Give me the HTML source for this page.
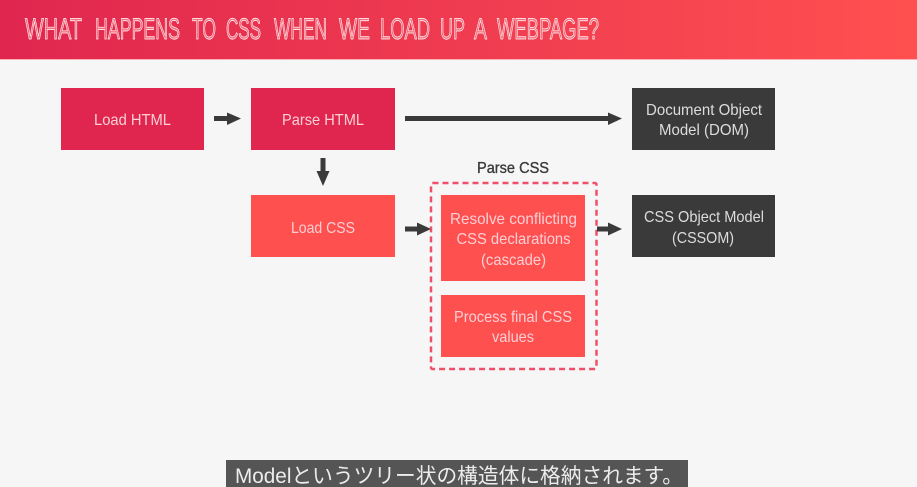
<!DOCTYPE html>
<html><head><meta charset="utf-8"><style>
html,body{margin:0;padding:0;width:917px;height:487px;overflow:hidden;background:#f6f6f6}
svg{display:block}
.t{font-family:"Liberation Sans",sans-serif;font-size:16px;fill:#fbcfd4;text-anchor:middle}
.d{font-family:"Liberation Sans",sans-serif;font-size:16px;fill:#dcdcdc;text-anchor:middle}
.h text{font-family:"Liberation Sans Narrow","Liberation Sans",sans-serif;font-size:30px;fill:#f4707f;stroke:#fff;stroke-width:.7px}
</style></head><body>
<svg width="917" height="487" viewBox="0 0 917 487" xmlns="http://www.w3.org/2000/svg">
<defs><linearGradient id="g" x1="0" y1="0" x2="1" y2="0"><stop offset="0" stop-color="#e0264f"/><stop offset="1" stop-color="#ff5050"/></linearGradient></defs>
<rect width="917" height="487" fill="#f6f6f6"/>
<rect width="917" height="59" fill="url(#g)"/>
<rect y="59" width="917" height="1" fill="#fbb0b8"/>
<g class="h">
<text x="25" y="39" textLength="57" lengthAdjust="spacingAndGlyphs">WHAT</text>
<text x="95" y="39" textLength="85" lengthAdjust="spacingAndGlyphs">HAPPENS</text>
<text x="192" y="39" textLength="24" lengthAdjust="spacingAndGlyphs">TO</text>
<text x="226" y="39" textLength="35" lengthAdjust="spacingAndGlyphs">CSS</text>
<text x="274" y="39" textLength="53" lengthAdjust="spacingAndGlyphs">WHEN</text>
<text x="339" y="39" textLength="31" lengthAdjust="spacingAndGlyphs">WE</text>
<text x="380" y="39" textLength="50" lengthAdjust="spacingAndGlyphs">LOAD</text>
<text x="440" y="39" textLength="25" lengthAdjust="spacingAndGlyphs">UP</text>
<text x="474" y="39" textLength="13" lengthAdjust="spacingAndGlyphs">A</text>
<text x="497" y="39" textLength="102" lengthAdjust="spacingAndGlyphs">WEBPAGE?</text>
</g>

<rect x="61" y="88" width="143" height="62" fill="#e0264f"/>
<rect x="251" y="88" width="144" height="62" fill="#e0264f"/>
<rect x="632" y="88" width="143" height="62" fill="#3a3a3a"/>
<rect x="251" y="195" width="144" height="62" fill="#ff5050"/>
<rect x="632" y="195" width="143" height="62" fill="#3a3a3a"/>
<rect x="441" y="195" width="144" height="86" fill="#ff5050"/>
<rect x="441" y="295" width="144" height="62" fill="#ff5050"/>
<rect x="431" y="183" width="165.500" height="186" rx="1.500" fill="none" stroke="#f0506a" stroke-width="2.500" stroke-dasharray="6 4"/>

<g fill="#3a3a3a">
<path d="M214 116H227V112.500L241 118.500L227 125V121H214Z"/>
<path d="M405 116H608V112.500L622 118.500L608 125V121H405Z"/>
<path d="M320.500 158H325.500V171H329.500L323 186L316.500 171H320.500Z"/>
<path d="M405 226.500H417V222.500L431 229L417 235.500V231.500H405Z"/>
<path d="M597 226.500H608V222.500L622 229L608 235.500V231.500H597Z"/>
</g>

<text class="t" x="132.500" y="125" textLength="77" lengthAdjust="spacingAndGlyphs">Load HTML</text>
<text class="t" x="323" y="125" textLength="82" lengthAdjust="spacingAndGlyphs">Parse HTML</text>
<text class="t" x="323" y="233" textLength="64" lengthAdjust="spacingAndGlyphs">Load CSS</text>
<text class="d" x="704" y="115" textLength="116" lengthAdjust="spacingAndGlyphs">Document Object</text>
<text class="d" x="704" y="135" textLength="90" lengthAdjust="spacingAndGlyphs">Model (DOM)</text>
<text class="d" x="704" y="222" textLength="120" lengthAdjust="spacingAndGlyphs">CSS Object Model</text>
<text class="d" x="703" y="243" textLength="62" lengthAdjust="spacingAndGlyphs">(CSSOM)</text>
<text class="t" x="513.500" y="224" textLength="127" lengthAdjust="spacingAndGlyphs">Resolve conflicting</text>
<text class="t" x="513.500" y="244" textLength="114" lengthAdjust="spacingAndGlyphs">CSS declarations</text>
<text class="t" x="513.500" y="265" textLength="65" lengthAdjust="spacingAndGlyphs">(cascade)</text>
<text class="t" x="513" y="322" textLength="118" lengthAdjust="spacingAndGlyphs">Process final CSS</text>
<text class="t" x="513" y="342" textLength="42" lengthAdjust="spacingAndGlyphs">values</text>
<text x="513" y="173" text-anchor="middle" font-family="'Liberation Sans',sans-serif" font-size="16" fill="#3a3a3a" stroke="#3a3a3a" stroke-width="0.35" textLength="72" lengthAdjust="spacingAndGlyphs">Parse CSS</text>

<rect x="226" y="460" width="462" height="27" fill="#555555"/>
<text x="235" y="483" font-family="'Liberation Sans','Noto Sans CJK JP',sans-serif" font-size="21" fill="#ececec" textLength="448" lengthAdjust="spacingAndGlyphs">Modelというツリー状の構造体に格納されます。</text>
</svg>
</body></html>
